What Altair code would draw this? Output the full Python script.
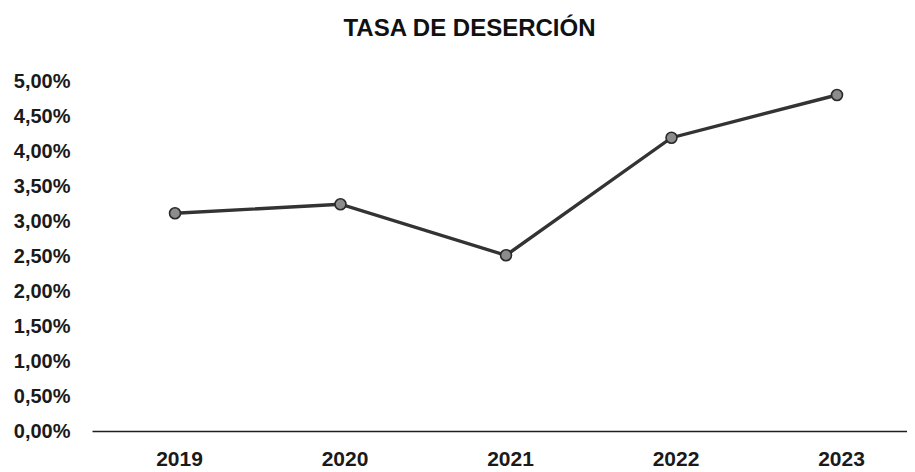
import altair as alt
import pandas as pd

years = [2019, 2020, 2021, 2022, 2023]
rates = [0.0311, 0.0324, 0.0251, 0.0419, 0.0480]
y_ticks = [0.0, 0.005, 0.01, 0.015, 0.02, 0.025, 0.03, 0.035, 0.04, 0.045, 0.05]

df = pd.DataFrame({"year": years, "rate": rates})

x_enc = alt.X(
    "year:Q",
    scale=alt.Scale(domain=[2018.4985, 2023.423], nice=False, zero=False),
    axis=alt.Axis(
        values=years, format="d", title=None, ticks=False, grid=False,
        domainColor="#1e1e1e", domainWidth=1.6,
        labelFont="Liberation Sans", labelFontSize=21, labelColor="#1a1a1a",
        labelFontWeight="bold", labelPadding=17, labelFlush=False,
        labelOverlap=False, labelOffset=4,
    ),
)
y_enc = alt.Y(
    "rate:Q",
    scale=alt.Scale(domain=[0, 0.05], nice=False),
    axis=alt.Axis(
        values=y_ticks, title=None, ticks=False, grid=False, domain=False,
        labelExpr="replace(format(datum.value, '.2%'), '.', ',')",
        labelFont="Liberation Sans", labelFontSize=20, labelColor="#1a1a1a",
        labelFontWeight="bold", labelPadding=22, labelOverlap=False,
    ),
)

base = alt.Chart(df).encode(x=x_enc, y=y_enc)
line = base.mark_line(color="#333333", strokeWidth=3.4)
points = base.mark_point(
    filled=True, fill="#8c8c8c", stroke="#2a2a2a", strokeWidth=1.6, size=120, opacity=1, shape="circle"
)

chart = (
    alt.layer(line, points)
    .properties(
        width=815,
        height=350,
        background="white",
        autosize=alt.AutoSizeParams(type="none"),
        padding={"left": 84, "top": 73, "right": 0, "bottom": 41},
        title=alt.TitleParams(
            "TASA DE DESERCIÓN",
            font="Liberation Sans", fontSize=24, fontWeight="bold", color="#111111",
            anchor="middle", dx=-30, offset=30,
        ),
    )
    .configure_view(stroke=None, strokeWidth=0)
)

chart.save("out.html", embed_options={"renderer": "svg", "actions": False})
